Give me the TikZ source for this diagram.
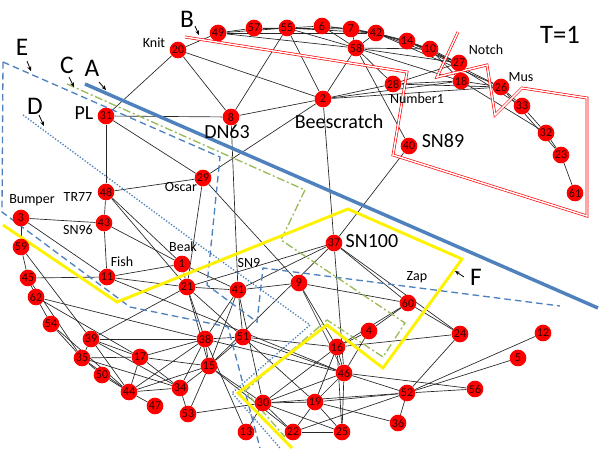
\documentclass[tikz,border=0pt]{standalone}
\usepackage{fontspec}
\setmainfont{Carlito}
\usetikzlibrary{arrows.meta,backgrounds}
\definecolor{vtxtext}{RGB}{50,0,0}
\definecolor{offblue}{RGB}{79,129,189}
\definecolor{offgreen}{RGB}{155,187,89}
\begin{document}
\begin{tikzpicture}[x=0.75pt,y=-0.75pt,
 vtx/.style={circle,fill=red,inner sep=0pt,minimum size=12.5pt,font=\fontsize{9}{9}\selectfont,text=vtxtext},
 edge/.style={draw=black!85,line width=0.5pt},
 small/.style={font=\fontsize{10.5}{12}\selectfont,inner sep=0pt},
 big/.style={font=\fontsize{15}{17}\selectfont,inner sep=0pt},
 letter/.style={font=\fontsize{19}{21}\selectfont,inner sep=0pt},
 ptr/.style={-{Stealth[length=3.5pt,width=3pt]},line width=0.6pt},
 lineA/.style={draw=offblue,line width=2.6pt},
 lineB/.style={draw=red,double=white,line width=0.5pt,double distance=1.1pt},
 lineC/.style={draw=offgreen,line width=1pt,dash pattern=on 6pt off 2pt on 1.5pt off 2pt},
 lineD/.style={draw=offblue,line width=1pt,dash pattern=on 1pt off 1.3pt},
 lineE/.style={draw=offblue,line width=1pt,dash pattern=on 5pt off 3pt},
 lineF/.style={draw=yellow,line width=2.2pt}]
\useasboundingbox (0,0) rectangle (601,458);
% vertices
\foreach \n/\x/\y in {20/178/50,49/218/33,57/254/28,55/287/28,6/322/26,7/351/29,42/376/33,58/356/48,
 14/407/41,10/430/49,27/459/63,18/461/81,26/501/87,33/522/106,32/546/133,23/561/155,61/575/193,
 28/393/84,2/323/99,8/231/117,31/106/116,40/409/146,48/106/192,43/104/223,3/21/218,59/21/247,
 45/28/278,62/36/297,11/107/277,1/182/264,21/187/287,29/203/178,37/334/243,41/238/290,9/299/283,
 60/408/303,24/460/334,12/543/333,5/518/358,56/475/389,52/407/393,36/398/423,54/51/324,39/91/339,
 35/82/358,50/102/375,17/140/357,44/129/392,47/155/406,34/180/388,53/188/414,38/205/339,51/243/337,
 15/209/366,16/337/347,4/369/331,46/344/373,30/263/403,19/315/402,13/246/432,22/293/432,25/342/432}
 \node[vtx] (n\n) at (\x,\y) {\n};
% labels
\node[small] (lKnit) at (154,43) {Knit};
\node[big] (lPL) at (84,113) {PL};
\node[big] (lDN) at (227,132) {DN63};
\node[big] (lBee) at (339,122) {Beescratch};
\node[small] (lNum) at (417,99) {Number1};
\node[small] (lNotch) at (486,50) {Notch};
\node[small] (lMus) at (521,77) {Mus};
\node[big] (lSN89) at (443,141) {SN89};
\node[font=\fontsize{20}{22}\selectfont,inner sep=0pt] (lT) at (560,35) {T=1};
\node[small] (lBump) at (32,200) {Bumper};
\node[small] (lTR) at (78,197) {TR77};
\node[small] (lSN96) at (78,230) {SN96};
\node[small] (lFish) at (122,262) {Fish};
\node[small] (lBeak) at (183,247) {Beak};
\node[small] (lOsc) at (181,187) {Oscar};
\node[small] (lSN9) at (249,263) {SN9};
\node[big] (lSN100) at (372,241) {SN100};
\node[small] (lZap) at (417,277) {Zap};
\node[letter] (lA) at (92,68) {A};
\node[letter] (lB) at (187,19) {B};
\node[letter] (lC) at (67,65) {C};
\node[letter] (lD) at (35,106) {D};
\node[letter] (lE) at (22,47) {E};
\node[letter] (lF) at (476,277) {F};
% pointer arrows
\coordinate (aA1) at (99,82); \coordinate (aA2) at (106,90);
\coordinate (aB1) at (195,26); \coordinate (aB2) at (199,35);
\coordinate (aC1) at (69,77); \coordinate (aC2) at (74,87);
\coordinate (aD1) at (39,115); \coordinate (aD2) at (44,126);
\coordinate (aE1) at (27,61); \coordinate (aE2) at (31,71);
\coordinate (aF1) at (464,277); \coordinate (aF2) at (455,271);
\foreach \p in {A,B,C,D,E,F} \draw[ptr] (a\p1) -- (a\p2);
\begin{scope}[on background layer]
\foreach \a/\b in {20/49,20/8,20/31,20/2,49/57,49/55,49/58,49/42,57/55,57/7,55/6,55/8,55/2,55/58,55/42,
 6/7,6/58,6/42,7/42,7/58,7/14,42/14,42/58,42/10,42/27,42/26,58/2,58/40,58/10,58/18,58/28,58/27,
 14/10,14/27,14/26,10/27,10/18,10/33,27/18,27/28,18/26,18/28,18/32,26/33,26/28,26/23,33/32,32/23,23/61,
 28/2,2/18,2/26,
 31/8,31/48,31/29,48/43,48/29,48/1,48/21,43/3,43/11,43/1,3/59,3/11,11/1,11/21,11/45,1/21,1/41,
 8/41,2/29,2/37,2/8,29/21,29/9,37/40,37/21,37/41,37/15,37/60,37/24,37/46,
 41/9,41/21,41/15,41/38,41/51,41/30,9/16,9/60,9/46,60/4,60/16,60/24,4/16,4/46,24/52,24/16,
 16/46,16/19,16/25,16/30,46/19,46/25,46/52,46/30,46/56,52/12,52/5,52/56,52/36,52/19,52/30,52/22,
 19/22,19/25,19/30,19/36,30/22,30/25,30/15,30/53,22/25,22/15,15/38,15/17,15/34,15/53,15/44,15/21,
 38/51,38/39,38/17,38/34,38/44,38/21,38/46,51/46,51/16,51/19,51/15,17/39,17/35,17/34,17/44,
 34/44,34/35,34/39,34/53,44/35,44/50,44/47,44/54,44/39,35/54,35/39,35/50,59/45,45/62,62/54,
 59/39,45/35,62/38,62/17,13/38,13/30,21/39,21/51,11/46}
 \draw[edge] (n\a) -- (n\b);
% region outlines
\draw[lineB] (185,37) -- (407,72) -- (393,155) -- (587,216) -- (587,98) -- (522,88) -- (495,115) -- (487,65) -- (437,77) -- (458,32);
\draw[lineE] (3,62) -- (220,157) -- (207,285) -- (257,322) -- (263,268) -- (560,306);
\draw[lineE] (3,62) -- (2,212) -- (130,307) -- (228,327) -- (260,448);
\draw[lineD] (23,115) -- (195,242) -- (310,325) -- (232,393) -- (280,448);
\draw[lineC] (67,84) -- (305,190) -- (281,240) -- (405,323) -- (383,357) -- (327,320) -- (245,391) -- (285,437);
\draw[lineF] (3,225) -- (117,302) -- (348,209) -- (462,259) -- (383,368) -- (327,325) -- (238,393) -- (292,448);
\draw[lineA] (85,84) -- (598,308);
\end{scope}
\end{tikzpicture}
\end{document}
